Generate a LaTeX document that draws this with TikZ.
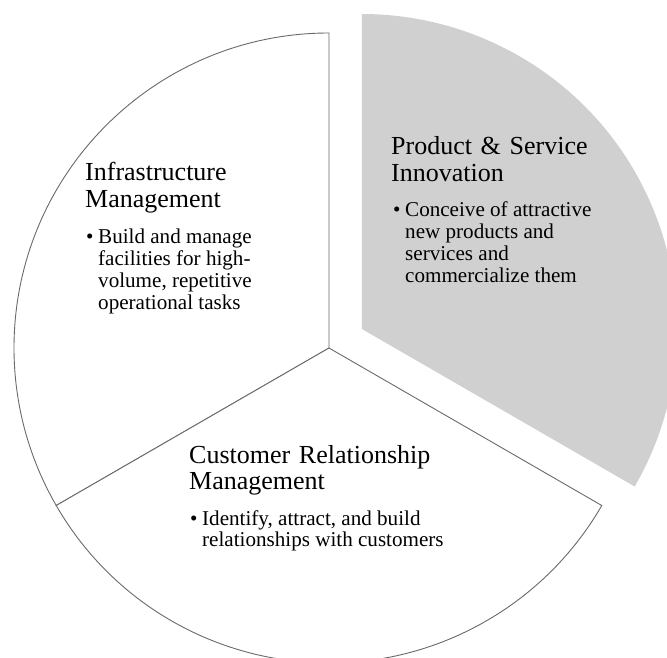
\documentclass[tikz,border=0pt]{standalone}
\usepackage{fontspec}
\setmainfont{Liberation Serif}
\definecolor{sectorline}{HTML}{6A6A6A}
\definecolor{sectorfill}{HTML}{D0D0D0}
\tikzset{
  sector/.style={draw=sectorline, line width=0.9pt, fill=white, line join=miter},
  hisector/.style={fill=sectorfill, draw=none},
  title/.style={anchor=base west, inner sep=0pt, text width=260pt, align=left,
    font=\fontsize{26}{26.5}\selectfont},
  bullets/.style={anchor=base west, inner sep=0pt,
    font=\fontsize{21.1}{21.8}\selectfont},
}
\newcommand{\bitem}[1]{\makebox[12pt][l]{\textbullet}\parbox[t]{250pt}{\raggedright #1}}
\begin{document}
\begin{tikzpicture}[x=1pt,y=1pt]
\useasboundingbox (0,0) rectangle (667,657);
\clip (0,0) rectangle (667,657);
\coordinate (C) at (329,309);
\coordinate (G) at (361.9,328);
% highlighted (exploded) sector
\fill[hisector] (G) -- ++(-30:315) arc[start angle=-30, end angle=90, radius=315] -- cycle;
% left sector
\draw[sector] (C) -- ++(90:315) arc[start angle=90, end angle=210, radius=315] -- cycle;
% bottom sector
\draw[sector] (C) -- ++(210:315) arc[start angle=210, end angle=330, radius=315] -- cycle;
% texts
\node[title] (t1) at (85,476) {Infrastructure\\Management};
\node[bullets] (b1) at (86,413) {\bitem{Build and manage\\facilities for high-\\volume, repetitive\\operational tasks}};
\node[title] (t2) at (391,502) {Product \& Service\\Innovation};
\node[bullets] (b2) at (393,440) {\bitem{Conceive of attractive\\new products and\\services and\\commercialize them}};
\node[title] (t3) at (189,194) {Customer Relationship\\Management};
\node[bullets] (b3) at (190,132) {\bitem{Identify, attract, and build\\relationships with customers}};
\end{tikzpicture}
\end{document}
